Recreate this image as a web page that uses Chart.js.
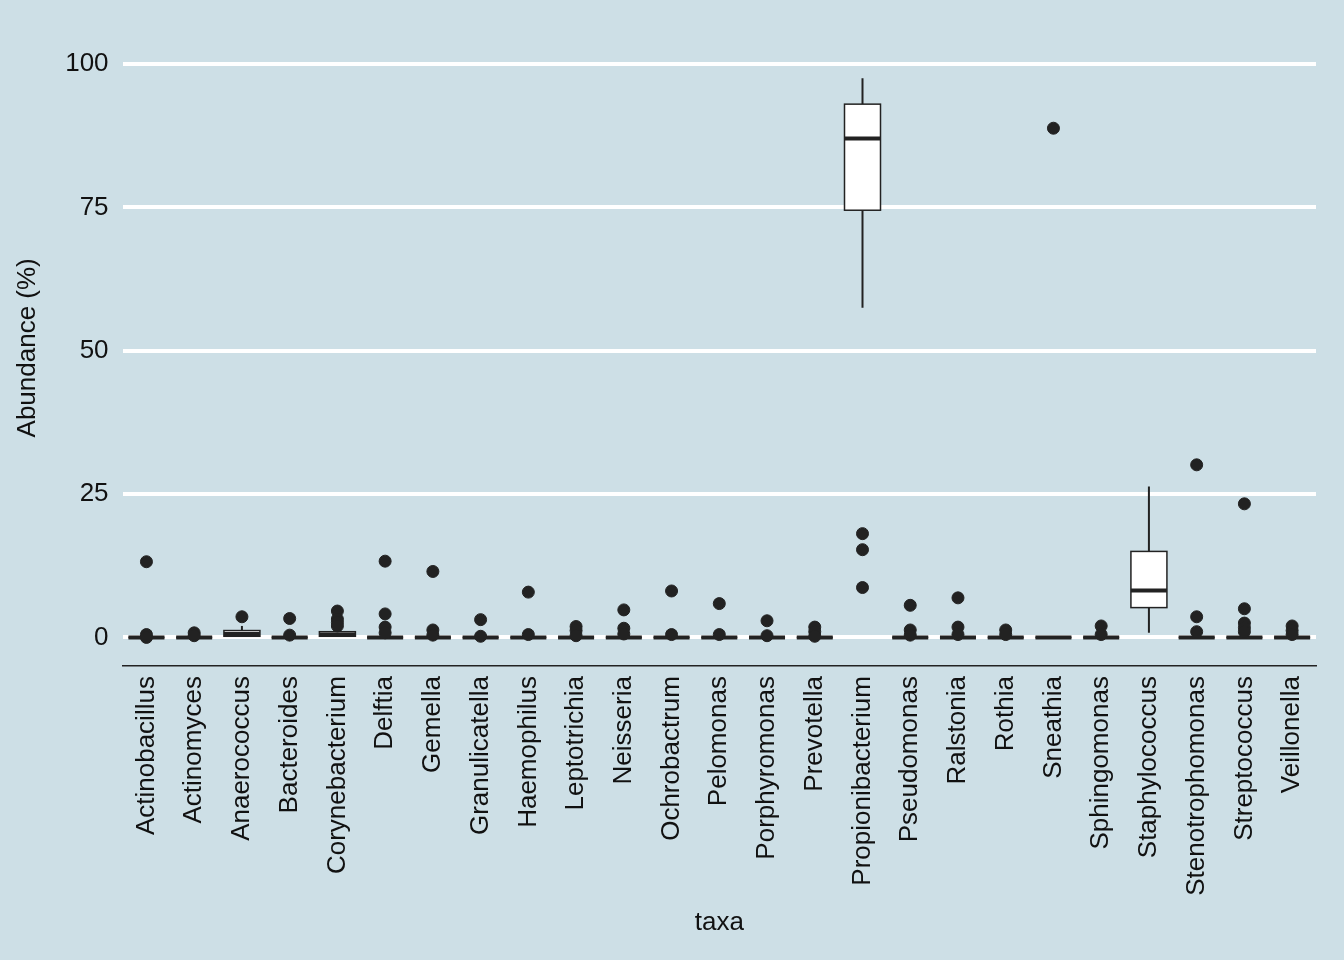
<!DOCTYPE html>
<html><head><meta charset="utf-8">
<script src="https://cdn.jsdelivr.net/npm/chart.js@4/dist/chart.umd.min.js"></script>
<style>html,body{margin:0;background:#cddfe6;}#wrap{width:1344px;height:960px;}</style>
</head><body><div id="wrap"><canvas id="c"></canvas></div>
<script>
const taxa = ["Actinobacillus","Actinomyces","Anaerococcus","Bacteroides","Corynebacterium","Delftia","Gemella","Granulicatella","Haemophilus","Leptotrichia","Neisseria","Ochrobactrum","Pelomonas","Porphyromonas","Prevotella","Propionibacterium","Pseudomonas","Ralstonia","Rothia","Sneathia","Sphingomonas","Staphylococcus","Stenotrophomonas","Streptococcus","Veillonella"];
// box stats: whisker low, q1, median, q3, whisker high
const lo  = [0,0,0.2,0,0.1,0,0,0,0,0,0,0,0,0,0,57.5,0,0,0,0,0,0.8,0,0,0];
const q1  = [0,0,0.2,0,0.2,0,0,0,0,0,0,0,0,0,0,74.5,0,0,0,0,0,5.2,0,0,0];
const med = [0,0,0.6,0,0.5,0,0,0,0,0,0,0,0,0,0,87.0,0,0,0,0,0,8.2,0,0,0];
const q3  = [0,0,1.2,0,1.0,0,0,0,0,0,0,0,0,0,0,93.0,0,0,0,0,0,15.0,0,0,0];
const hi  = [0.2,0.2,2.0,0.2,1.5,0.2,0.2,0.2,0.2,0.2,0.2,0.2,0.2,0.2,0.2,97.5,0.2,0.2,0.2,0,0.2,26.3,0.2,0.3,0.2];
const outliers = [
  [13.2,0.5,0],[0.8,0.3],[3.6],[3.3,0.4],[4.6,3.2,2.6,2.0],[13.3,4.1,1.8,0.8],[11.5,1.3,0.4],[3.1,0.2],
  [7.9,0.5],[1.9,1.2,0.3],[4.8,1.6,0.6],[8.1,0.5],[5.9,0.5],[2.9,0.3],[1.8,1.0,0.2],[18.1,15.3,8.7],
  [5.6,1.3,0.4],[6.9,1.8,0.5],[1.3,0.5],[88.8],[2.0,0.5],[],[30.1,3.6,1.0],[23.3,5.0,2.5,1.7,1.0],[2.0,1.2,0.5]
];
const yTicks = [0,25,50,75,100];

const pts = [];
outliers.forEach((arr, i) => arr.forEach(v => pts.push({x: taxa[i], y: v})));

const boxPlugin = {
  id: "boxes",
  beforeDatasetsDraw(chart) {
    const c = chart.ctx, xs = chart.scales.x, ys = chart.scales.y;
    const w = 36;
    c.save();
    c.strokeStyle = "#222";
    taxa.forEach((t, i) => {
      const x = xs.getPixelForValue(i);
      c.lineWidth = 2;
      c.beginPath();
      c.moveTo(x, ys.getPixelForValue(lo[i])); c.lineTo(x, ys.getPixelForValue(q1[i]));
      c.moveTo(x, ys.getPixelForValue(q3[i])); c.lineTo(x, ys.getPixelForValue(hi[i]));
      c.stroke();
      const top = ys.getPixelForValue(q3[i]), bot = ys.getPixelForValue(q1[i]);
      c.fillStyle = "#fff";
      c.fillRect(x - w/2, top, w, bot - top);
      c.lineWidth = 1.5;
      c.strokeRect(x - w/2, top, w, bot - top);
      c.lineWidth = 4;
      c.beginPath();
      const m = ys.getPixelForValue(med[i]);
      c.moveTo(x - w/2, m); c.lineTo(x + w/2, m);
      c.stroke();
    });
    c.restore();
  }
};

const font = { family: "Liberation Sans", size: 26 };

new Chart(document.getElementById("c"), {
  type: "scatter",
  data: { labels: taxa, datasets: [{ data: pts, backgroundColor: "#222", borderColor: "#222", pointRadius: 6, pointHoverRadius: 6 }] },
  options: {
    responsive: true, maintainAspectRatio: false, animation: false,
    layout: { padding: { top: 0, right: 28, bottom: 18, left: 8 } },
    plugins: { legend: { display: false }, tooltip: { enabled: false } },
    scales: {
      x: {
        type: "category", labels: taxa, offset: true,
        grid: { display: false, drawTicks: true, tickColor: "#222", tickLength: 7 },
        border: { display: true, color: "#222", width: 1.5 },
        ticks: { color: "#111", font: font, minRotation: 90, maxRotation: 90, autoSkip: false, padding: 3 },
        title: { display: true, text: "taxa", color: "#111", font: font, padding: { top: 8 } }
      },
      y: {
        min: -5, max: 106,
        afterBuildTicks: s => { s.ticks = yTicks.map(v => ({ value: v })); },
        grid: { color: "#fff", lineWidth: 4, drawTicks: false },
        border: { display: false },
        ticks: { color: "#111", font: font, padding: 14 },
        title: { display: true, text: "Abundance (%)", color: "#111", font: font, padding: { bottom: 8 } }
      }
    }
  },
  plugins: [boxPlugin]
});
</script></body></html>
